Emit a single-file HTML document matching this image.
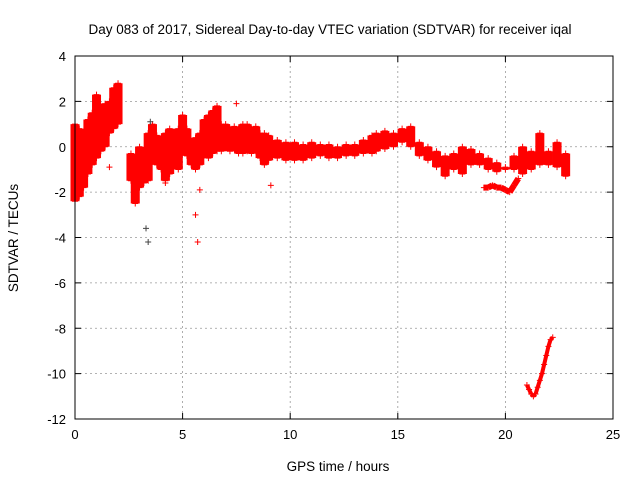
<!DOCTYPE html>
<html><head><meta charset="utf-8"><style>
body{margin:0;background:#fff}
svg{display:block;font-family:"Liberation Sans",sans-serif}
</style></head><body>
<svg id="chart" width="640" height="480">
<rect width="640" height="480" fill="#fff"/>
<text x="330" y="34" text-anchor="middle" font-size="13.5">Day 083 of 2017, Sidereal Day-to-day VTEC variation (SDTVAR) for receiver iqal</text>
<text x="338" y="471" text-anchor="middle" font-size="13.5">GPS time / hours</text>
<text transform="translate(18,238) rotate(-90)" text-anchor="middle" font-size="13.5">SDTVAR / TECUs</text>
<g id="grid"></g><g id="marks"></g>
<rect x="75" y="56" width="538" height="363" fill="none" stroke="#000"/>
</svg>
<script>
const xTicks=[0,5,10,15,20,25];
const yTicks=[4,2,0,-2,-4,-6,-8,-10,-12];
const times=[0,0.2,0.4,0.6,0.8,1.0,1.2,1.4,1.6,1.8,2.0,2.6,2.8,3.0,3.2,3.4,3.6,3.8,4.0,4.2,4.4,4.6,4.8,5.0,5.2,5.4,5.6,5.8,6.0,6.2,6.4,6.6,6.8,7.0,7.2,7.4,7.6,7.8,8.0,8.2,8.4,8.6,8.8,9.0,9.4,9.8,10.2,10.6,11.0,11.4,11.8,12.2,12.6,13.0,13.4,13.8,14.0,14.4,14.8,15.2,15.6,16.0,16.4,16.8,17.2,17.6,18.0,18.4,18.8,19.2,19.6,20.0,20.4,20.8,21.2,21.6,22.0,22.4,22.8];
const lows=[-2.4,-2.2,-1.8,-1.2,-0.8,-0.5,-0.2,0.0,0.6,0.8,1.0,-1.5,-2.5,-1.8,-1.6,-1.5,-0.6,-0.8,-1.0,-1.5,-1.2,-0.6,-1.0,0.2,-0.4,-0.8,-1.0,-0.8,-0.4,-0.5,-0.3,-0.2,-0.2,0.0,-0.2,-0.1,-0.3,-0.3,-0.2,-0.3,-0.2,-0.5,-0.8,-0.6,-0.5,-0.6,-0.6,-0.6,-0.5,-0.4,-0.5,-0.5,-0.4,-0.4,-0.3,-0.3,-0.2,-0.1,0.0,0.2,0.0,-0.4,-0.6,-0.9,-1.3,-1.0,-1.2,-0.8,-0.8,-1.0,-1.1,-1.0,-1.0,-1.2,-1.0,-0.8,-0.8,-0.9,-1.3];
const highs=[1.0,0.8,0.6,1.2,1.5,2.3,1.8,1.9,2.0,2.6,2.8,-0.3,-0.5,0.0,-0.2,0.6,1.0,0.5,0.2,0.6,0.8,0.4,0.8,1.4,0.8,0.0,0.4,0.6,1.2,1.4,1.6,1.8,1.0,1.0,0.8,0.9,0.8,1.0,1.0,0.8,0.9,0.6,0.6,0.5,0.3,0.2,0.2,0.1,0.2,0.1,0.1,0.0,0.1,0.1,0.3,0.5,0.6,0.7,0.6,0.8,0.9,0.2,0.0,-0.2,-0.4,-0.3,0.0,-0.1,-0.3,-0.5,-0.7,-0.9,-0.4,0.0,-0.2,0.6,-0.2,0.2,-0.3];
const band2T=[19.0,19.2,19.4,19.6,19.8,20.0,20.2,20.4,20.6];
const band2V=[-1.8,-1.8,-1.7,-1.8,-1.8,-1.9,-2.0,-1.7,-1.4];
const outT=[3.3,3.4,3.5,4.2,5.6,5.7,5.8,7.5,9.1,1.6];
const outV=[-3.6,-4.2,1.1,-1.6,-3.0,-4.2,-1.9,1.9,-1.7,-0.9];
const dipT=[21.0,21.1,21.2,21.3,21.4,21.5,21.6,21.7,21.8,21.9,22.0,22.1,22.2];
const dipV=[-10.5,-10.7,-10.9,-11.0,-10.9,-10.6,-10.3,-10.0,-9.6,-9.2,-8.8,-8.5,-8.4];
const NS="http://www.w3.org/2000/svg";
const X0=75,X1=613,Y0=56,Y1=419;
const xs=v=>X0+(v-0)/25*(X1-X0);
const ys=v=>Y1-(v+12)/16*(Y1-Y0);
function mk(tag,at,parent){const e=document.createElementNS(NS,tag);for(const k in at)e.setAttribute(k,at[k]);parent.appendChild(e);return e;}
const grid=document.getElementById('grid'),marks=document.getElementById('marks');
xTicks.forEach(t=>{const x=xs(t);
 if(t>0&&t<25){const l=mk('line',{x1:x,y1:Y0,x2:x,y2:Y1,stroke:'#999','stroke-dasharray':'2,3','stroke-width':0.8},grid);
 
 }
 mk('line',{x1:x,y1:Y1,x2:x,y2:Y1-6,stroke:'#000'},grid);mk('line',{x1:x,y1:Y0,x2:x,y2:Y0+6,stroke:'#000'},grid);
 const tx=mk('text',{x:x,y:Y1+20,'text-anchor':'middle','font-size':13},grid);tx.textContent=t;
 
 });
yTicks.forEach(t=>{const y=ys(t);
 if(t>-12&&t<4){const l=mk('line',{x1:X0,y1:y,x2:X1,y2:y,stroke:'#999','stroke-dasharray':'2,3','stroke-width':0.8},grid);
 
 }
 mk('line',{x1:X0,y1:y,x2:X0+6,y2:y,stroke:'#000'},grid);mk('line',{x1:X1,y1:y,x2:X1-6,y2:y,stroke:'#000'},grid);
 const tx=mk('text',{x:X0-9,y:y+5,'text-anchor':'end','font-size':13},grid);tx.textContent=t;
 
 });
function plus(t,v,c){const x=xs(t),y=ys(v);const p=mk('path',{d:`M${x-3},${y}h6M${x},${y-3}v6`,stroke:c,'stroke-width':1},marks);
 
 }
times.forEach((t,i)=>{const x=xs(t);
 const b=mk('line',{x1:x,y1:ys(lows[i]),x2:x,y2:ys(highs[i]),stroke:'#f00','stroke-width':9},marks);
 
 
 plus(t,lows[i],'#f00');plus(t,highs[i],'#f00');});
band2T.forEach((t,i)=>{plus(t,band2V[i],'#f00');
 if(i>0){const l=mk('line',{x1:xs(band2T[i-1]),y1:ys(band2V[i-1]),x2:xs(t),y2:ys(band2V[i]),stroke:'#f00','stroke-width':6},marks);
 
 }});
outT.forEach((t,i)=>plus(t,outV[i],i<3?'#444':'#f00'));
dipT.forEach((t,i)=>{plus(t,dipV[i],'#f00');
 if(i>0){const l=mk('line',{x1:xs(dipT[i-1]),y1:ys(dipV[i-1]),x2:xs(t),y2:ys(dipV[i]),stroke:'#f00','stroke-width':4},marks);
 
 }});
</script>
</body></html>
